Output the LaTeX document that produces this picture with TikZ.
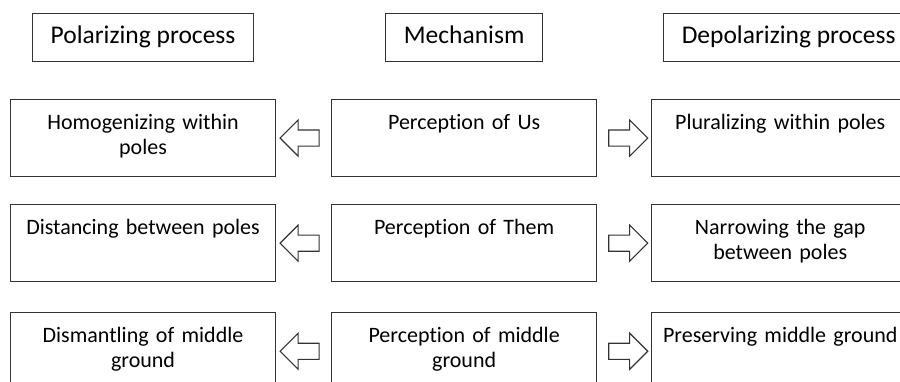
\documentclass[tikz,border=0pt]{standalone}
\usepackage{fontspec}
\setmainfont{Carlito}[Ligatures=NoCommon]
\usetikzlibrary{positioning,calc,shapes.arrows}

\begin{document}
\begin{tikzpicture}[x=1pt,y=-1pt]
            \tikzset{
                head/.style={draw=black!80,line width=1.1pt,inner xsep=18pt,inner ysep=12pt,text height=18pt,text depth=6pt,font=\fontsize{25.5}{30}\selectfont},
                cell/.style={draw=black!80,line width=1.1pt,text width=259pt,inner xsep=3pt,inner ysep=14pt,align=center,text height=16pt,text depth=33pt,font=\fontsize{22}{25}\selectfont},
                dcell/.style={cell,text width=251pt},
                larrow/.style={single arrow,draw=black!80,line width=1.1pt,minimum height=39pt,inner sep=7.5pt,single arrow head extend=10pt,single arrow tip angle=90,shape border rotate=180},
                rarrow/.style={larrow,shape border rotate=0}}
            \useasboundingbox (0,0) rectangle (900,381);
            % polarizing column
            \node[cell,anchor=north west] (p1) at (10,99) {Homogenizing within\\poles};
            \node[cell,below=27pt of p1] (p2) {Distancing between poles};
            \node[cell,below=30pt of p2] (p3) {Dismantling of middle\\ground};
            % mechanisms
            \node[cell,right=55pt of p1] (m1) {Perception of Us};
            \node[cell,right=55pt of p2] (m2) {Perception of Them};
            \node[cell,right=55pt of p3] (m3) {Perception of middle\\ground};
            % depolarizing column
            \node[dcell,right=54pt of m1] (d1) {Pluralizing within poles};
            \node[dcell,right=54pt of m2] (d2) {Narrowing the gap\\between poles};
            \node[dcell,right=54pt of m3] (d3) {Preserving middle ground};
            % headings
            \node[head,above=37pt of p1] (pol) {Polarizing process};
            \node[head,above=37pt of m1] (mech) {Mechanism};
            \node[head,anchor=south west] (depol) at ($(d1.north west)+(12,-37)$) {Depolarizing process};
            % arrows
            \node[larrow] (l1) at ($(p1.east)!0.5!(m1.west)$) {};
            \node[larrow] (l2) at ($(p2.east)!0.5!(m2.west)$) {};
            \node[larrow] (l3) at ($(p3.east)!0.5!(m3.west)$) {};
            \node[rarrow] (r1) at ($(m1.east)!0.5!(d1.west)$) {};
            \node[rarrow] (r2) at ($(m2.east)!0.5!(d2.west)$) {};
            \node[rarrow] (r3) at ($(m3.east)!0.5!(d3.west)$) {};
        \end{tikzpicture}
\end{document}
